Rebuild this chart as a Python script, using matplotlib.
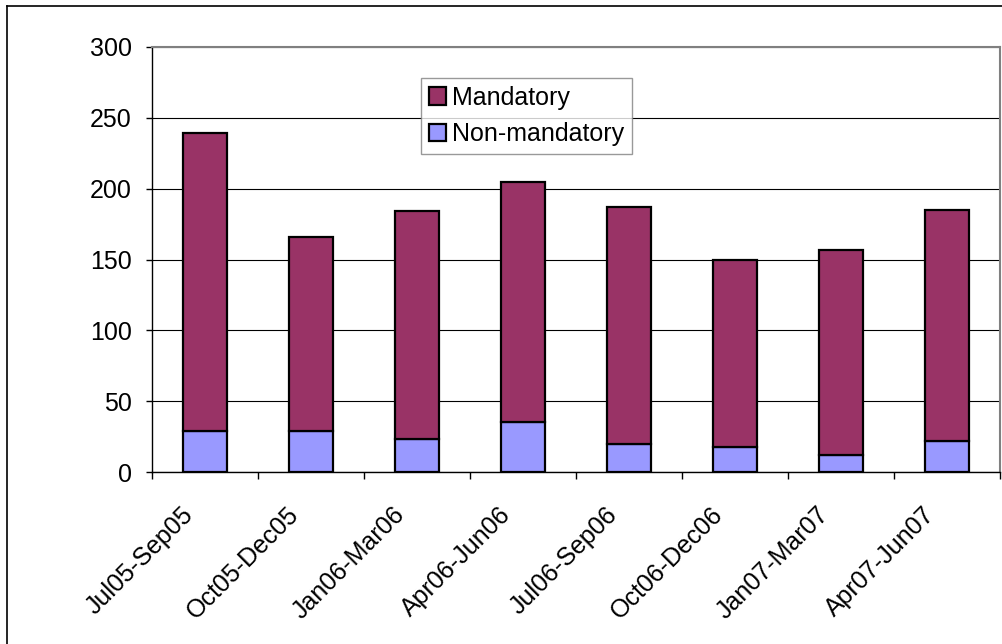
import matplotlib
matplotlib.use("Agg")
import matplotlib.pyplot as plt
from matplotlib.lines import Line2D
from matplotlib.transforms import ScaledTranslation
import numpy as np

plt.rcParams['font.family'] = ['Liberation Sans', 'DejaVu Sans']

periods = ["Jul05-Sep05", "Oct05-Dec05", "Jan06-Mar06", "Apr06-Jun06",
           "Jul06-Sep06", "Oct06-Dec06", "Jan07-Mar07", "Apr07-Jun07"]
non_mandatory = [29, 29, 23, 35, 20, 18, 12, 22]
mandatory = [210, 137, 161, 170, 167, 132, 145, 163]
y_ticks = [0, 50, 100, 150, 200, 250, 300]

W, H = 1002, 644
fig = plt.figure(figsize=(W / 100, H / 100), dpi=100)
ax = fig.add_axes([152 / W, (H - 472) / H, (1000 - 152) / W, (472 - 47) / H])

x = np.arange(len(periods))
width = 0.41
ax.bar(x, non_mandatory, width, color="#9999FF", edgecolor="black",
       linewidth=1.6, label="Non-mandatory", zorder=3)
ax.bar(x, mandatory, width, bottom=non_mandatory, color="#993366",
       edgecolor="black", linewidth=1.6, label="Mandatory", zorder=3)

ax.set_xlim(-0.5, len(periods) - 0.5)
ax.set_ylim(0, 300)
ax.set_yticks(y_ticks)
ax.set_yticklabels([str(v) for v in y_ticks], fontsize=18)
ax.yaxis.grid(True, color="black", linewidth=0.8, zorder=0)
ax.set_axisbelow(True)

# category boundaries carry the tick marks, centres carry the labels
ax.set_xticks(np.arange(len(periods) + 1) - 0.5, minor=True)
ax.set_xticks(x)
ax.set_xticklabels(periods, fontsize=18, rotation=45, ha="right",
                   va="baseline", rotation_mode="anchor")
ax.tick_params(axis="x", which="major", length=0, pad=31.7)
ax.tick_params(axis="x", which="minor", length=5, width=1, color="black",
               direction="out")
ax.tick_params(axis="y", length=4.5, width=1, color="black", pad=10)
shift = ScaledTranslation(-11 / 100, 0, fig.dpi_scale_trans)
for lbl in ax.get_xticklabels():
    lbl.set_transform(lbl.get_transform() + shift)

for side in ("top", "right"):
    ax.spines[side].set_color("#808080")
    ax.spines[side].set_linewidth(1.5)
for side in ("left", "bottom"):
    ax.spines[side].set_color("black")
    ax.spines[side].set_linewidth(1.0)

handles, labels = ax.get_legend_handles_labels()
leg = ax.legend(handles[::-1], labels[::-1], loc="upper left",
                bbox_to_anchor=((421 - 152) / 848, (472 - 78) / 425),
                fontsize=18, frameon=True, fancybox=False, shadow=False,
                borderaxespad=0, handlelength=0.7, handleheight=0.7,
                handletextpad=0.25, labelspacing=0.5, borderpad=0.3)
leg.get_frame().set_edgecolor("#808080")
leg.get_frame().set_linewidth(1.0)

# outer frame of the chart area (left and top edges)
fig.add_artist(Line2D([6.5 / W, 6.5 / W], [0, 1 - 5.5 / H],
                      transform=fig.transFigure, color="black", linewidth=1.2))
fig.add_artist(Line2D([6.5 / W, 1], [1 - 5.5 / H, 1 - 5.5 / H],
                      transform=fig.transFigure, color="black", linewidth=1.2))

fig.savefig("out.png", dpi=100, facecolor="white")
